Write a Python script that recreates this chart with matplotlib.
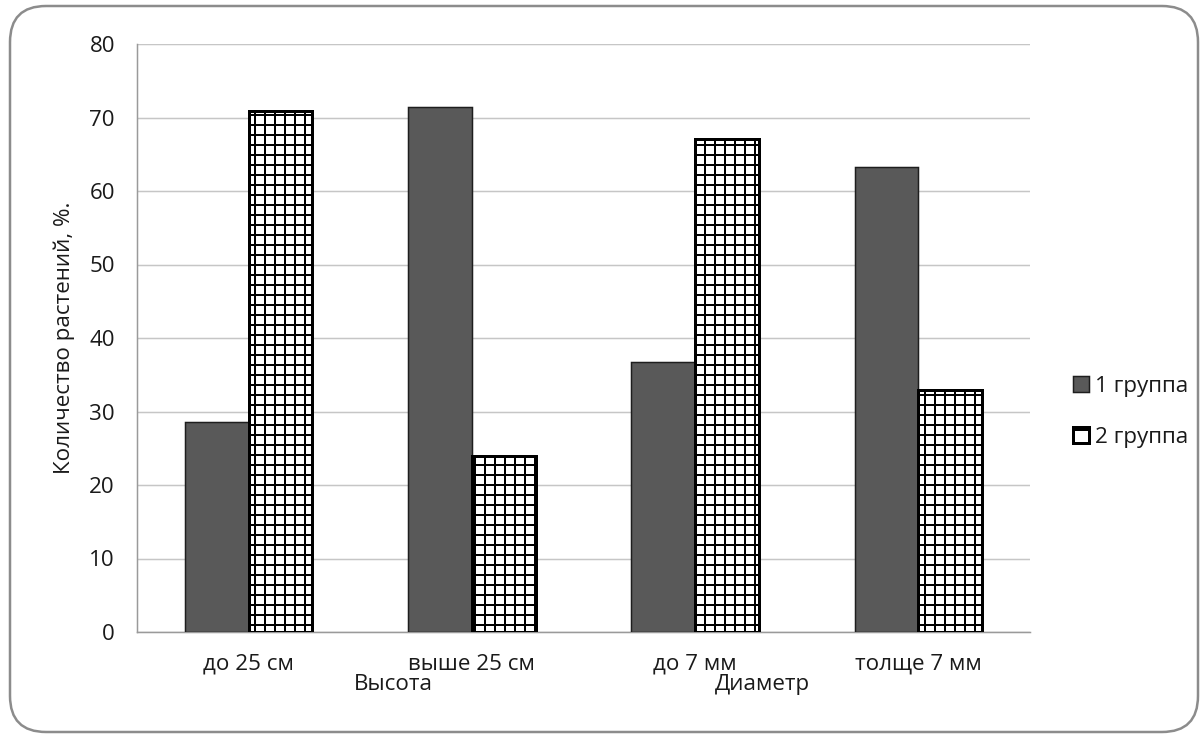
import matplotlib
matplotlib.use("Agg")
import matplotlib.pyplot as plt
from matplotlib.patches import FancyBboxPatch, Patch
import numpy as np

# Data
categories = ["до 25 см", "выше 25 см", "до 7 мм", "толще 7 мм"]
group_names = ["Высота", "Диаметр"]
series_names = ["1 группа", "2 группа"]
group1 = [28.6, 71.4, 36.7, 63.3]
group2 = [70.9, 23.9, 67.1, 32.9]
y_ticks = [0, 10, 20, 30, 40, 50, 60, 70, 80]

DPI = 120
PX = 72 / DPI  # points per pixel

plt.rcParams["font.family"] = ["Open Sans", "DejaVu Sans"]
plt.rcParams["hatch.linewidth"] = 2.0 * PX
plt.rcParams["hatch.color"] = "black"

FS = 13.4
TXT = "#1a1a1a"

W, H = 1203, 746
fig = plt.figure(figsize=(W / DPI, H / DPI), dpi=DPI)
ax = fig.add_axes([137 / W, 1 - 632 / H, (1030 - 137) / W, (632 - 44) / H])

x = np.arange(len(categories))
bw = 0.285
ax.bar(x - bw / 2, group1, width=bw, color="#595959", edgecolor="#1e1e1e",
       linewidth=1.5 * PX, zorder=3, label=series_names[0])
ax.bar(x + bw / 2, group2, width=bw, color="white", edgecolor="black",
       linewidth=3.0 * PX, hatch="++", zorder=3, label=series_names[1])

ax.set_xlim(-0.5, len(categories) - 0.5)
ax.set_ylim(0, 80)
ax.set_yticks(y_ticks)
ax.set_xticks(x)
ax.set_xticklabels(categories)
ax.tick_params(axis="both", length=0, labelsize=FS, colors=TXT)
ax.tick_params(axis="y", pad=22 * PX)
ax.tick_params(axis="x", pad=22 * PX)
ax.yaxis.grid(True, color="#c6c6c6", linewidth=1.5 * PX, zorder=0)
ax.set_axisbelow(True)
for side in ("top", "right"):
    ax.spines[side].set_visible(False)
for side in ("left", "bottom"):
    ax.spines[side].set_color("#9a9a9a")
    ax.spines[side].set_linewidth(1.5 * PX)

ax.set_ylabel("Количество растений, %.", fontsize=FS, color=TXT,
              labelpad=14 * PX)

# Group labels below the category labels
for name, xpos in zip(group_names, [0.648, 2.30]):
    ax.text(xpos, -0.09, name, transform=ax.get_xaxis_transform(),
            ha="center", va="center", fontsize=FS, color=TXT)

handles = [
    Patch(facecolor="#595959", edgecolor="#1e1e1e", linewidth=1.5 * PX),
    Patch(facecolor="white", edgecolor="black", linewidth=3 * PX, hatch="+"),
]
leg = fig.legend(handles, series_names, loc="center left",
                 bbox_to_anchor=(1053 / W, 1 - 412 / H), frameon=False,
                 fontsize=FS, handlelength=0.7, handleheight=0.7,
                 handletextpad=0.3, labelspacing=1.35, labelcolor=TXT)

# Rounded frame around the whole chart
frame = FancyBboxPatch((10 / W, 14 / H), (1198 - 10) / W, (740 - 14) / H,
                       boxstyle="round,pad=0,rounding_size=0.03",
                       transform=fig.transFigure, facecolor="none",
                       edgecolor="#8c8c8c", linewidth=2.5 * PX,
                       mutation_aspect=W / H)
fig.patches.append(frame)

fig.savefig("out.png", dpi=DPI)
